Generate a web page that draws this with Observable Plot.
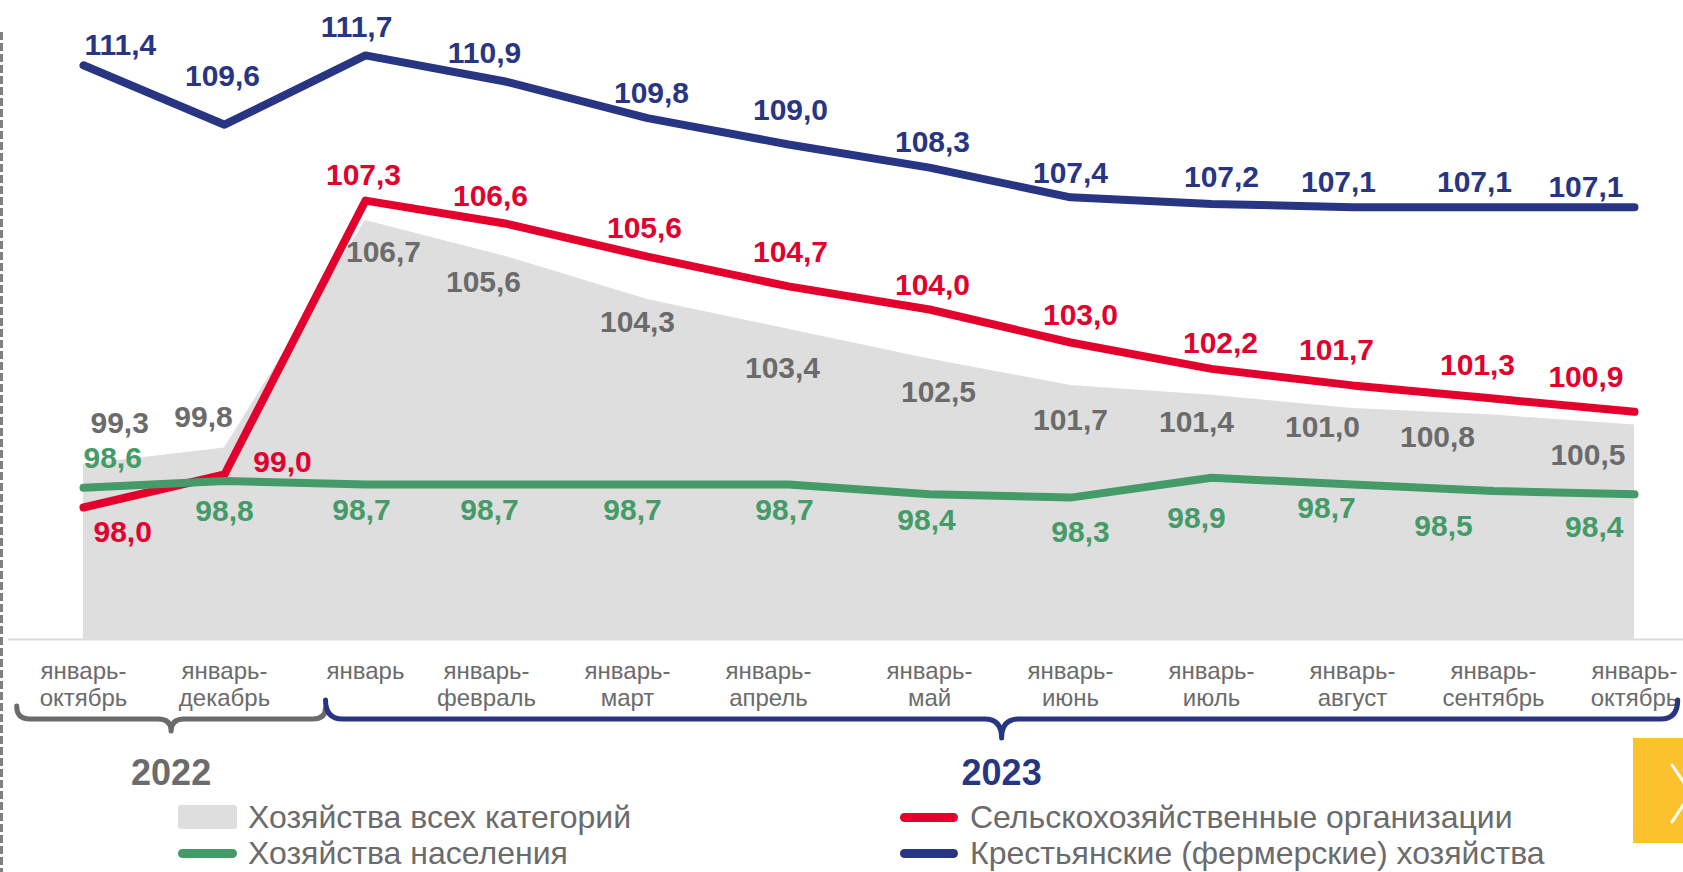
<!DOCTYPE html>
<html>
<head>
<meta charset="utf-8">
<script src="https://cdn.jsdelivr.net/npm/d3@7"></script>
<script src="https://cdn.jsdelivr.net/npm/@observablehq/plot@0.6"></script>
<style>
  html, body { margin: 0; padding: 0; background: #fff; overflow: hidden; }
  #wrap { position: relative; width: 1683px; height: 872px; overflow: hidden; font-family: "Liberation Sans", Arial, sans-serif; }
  #chart { position: absolute; left: 0; top: 0; }
  .dash { position: absolute; left: 0; top: 32px; width: 3px; height: 840px;
          background: repeating-linear-gradient(to bottom, #808080 0 8px, transparent 8px 11px); }
  .item { position: absolute; height: 36px; display: flex; align-items: center; white-space: nowrap;
          font-size: 32px; line-height: 1; color: #6b6b6b; }
  .sw-rect { width: 59px; height: 24px; border-radius: 3px; background: #dedede; margin-right: 11px; }
  .sw-line { width: 58px; height: 9px; border-radius: 5px; margin-right: 12px; }
  .nav { position: absolute; left: 1633px; top: 738px; width: 50px; height: 105px; background: #fbc22e; overflow: hidden; }
</style>
</head>
<body>
<div id="wrap">
  <div id="chart"></div>
  <div class="dash"></div>
  <div id="legend"></div>
  <div class="nav"><svg width="50" height="105"><polyline points="39,27 58,55 39,84" fill="none" stroke="#fff" stroke-width="3" stroke-linecap="round"/></svg></div>
</div>
<script>
// ---- data ----
const periods = ["2022-10","2022-12","2023-01","2023-02","2023-03","2023-04","2023-05","2023-06","2023-07","2023-08","2023-09","2023-10"];
const periodLabels = ["январь-\nоктябрь","январь-\nдекабрь","январь","январь-\nфевраль","январь-\nмарт","январь-\nапрель","январь-\nмай","январь-\nиюнь","январь-\nиюль","январь-\nавгуст","январь-\nсентябрь","январь-\nоктябрь"];
const allCategories = [99.3, 99.8, 106.7, 105.6, 104.3, 103.4, 102.5, 101.7, 101.4, 101.0, 100.8, 100.5];
const agriOrgs      = [98.0, 99.0, 107.3, 106.6, 105.6, 104.7, 104.0, 103.0, 102.2, 101.7, 101.3, 100.9];
const households    = [98.6, 98.8, 98.7, 98.7, 98.7, 98.7, 98.4, 98.3, 98.9, 98.7, 98.5, 98.4];
const farms         = [111.4, 109.6, 111.7, 110.9, 109.8, 109.0, 108.3, 107.4, 107.2, 107.1, 107.1, 107.1];
const years = ["2022", "2023"];
const seriesNames = ["Хозяйства всех категорий", "Хозяйства населения", "Сельскохозяйственные организации", "Крестьянские (фермерские) хозяйства"];

// ---- styling / layout ----
const C = { gray: "#dedede", grayText: "#6b6b6b", red: "#e3002d", green: "#459b68", blue: "#283583" };
const yDomain = [94, 113];
// label nudges [dx, dy] in px relative to each data point
const grayNudge  = [[7,-41],[-21,-31],[18,32],[-23,26],[-10,23],[-6,39],[9,33],[0,35],[-15,27],[-30,19],[-56,22],[-9,30]];
const redNudge   = [[10,25],[58,-12],[-2,-25],[-16,-27],[-3,-28],[2,-34],[3,-24],[10,-27],[9,-26],[-16,-35],[-16,-33],[-11,-34]];
const greenNudge = [[0,-29],[0,30],[-4,26],[-17,26],[-15,26],[-4,26],[-3,26],[10,35],[-15,41],[-26,24],[-50,35],[-11,33]];
const blueNudge  = [[1,-20],[-2,-48],[-9,-28],[-22,-28],[4,-25],[2,-34],[3,-25],[0,-24],[10,-27],[-14,-25],[-19,-25],[-11,-20]];

const rows = periods.map((p, i) => ({ period: p, label: periodLabels[i], all: allCategories[i], org: agriOrgs[i], hh: households[i], farm: farms[i] }));
const fmt = v => v.toFixed(1).replace(".", ",");
const labelOf = p => periodLabels[periods.indexOf(p)];

function valueLabels(key, color, nudges) {
  const n = rows.length;
  return rows.map((r, i) => Plot.text([r], {
    x: "period", y: key, text: d => fmt(d[key]),
    fill: color, fontSize: 30, fontWeight: "bold",
    textAnchor: i === 0 ? "start" : i === n - 1 ? "end" : "middle",
    dx: nudges[i][0], dy: nudges[i][1]
  }));
}

const lineOpts = { x: "period", strokeWidth: 8, strokeLinecap: "round", strokeLinejoin: "round" };
const axisOpts = { tickSize: 0, tickPadding: 21, fontSize: 24, lineHeight: 1.1, color: C.grayText, tickFormat: labelOf, label: null };
const shifted = periods.slice(3, 6);

const plot = Plot.plot({
  width: 1683, height: 800,
  marginLeft: 81, marginRight: 47, marginTop: 12, marginBottom: 161,
  style: { fontFamily: "'Liberation Sans', Arial, sans-serif", background: "transparent" },
  x: { type: "point", domain: periods, padding: 0, label: null },
  y: { domain: yDomain, axis: null },
  marks: [
    Plot.ruleY([yDomain[0]], { stroke: "#dcdcdc", strokeWidth: 2, insetLeft: -73, insetRight: -47 }),
    Plot.areaY(rows, { x: "period", y1: yDomain[0], y2: "all", fill: C.gray }),
    Plot.line(rows, { ...lineOpts, y: "org", stroke: C.red }),
    Plot.line(rows, { ...lineOpts, y: "hh", stroke: C.green }),
    Plot.line(rows, { ...lineOpts, y: "farm", stroke: C.blue }),
    ...valueLabels("all", C.grayText, grayNudge),
    ...valueLabels("org", C.red, redNudge),
    ...valueLabels("hh", C.green, greenNudge),
    ...valueLabels("farm", C.blue, blueNudge),
    Plot.axisX(periods.filter(p => !shifted.includes(p)), axisOpts),
    Plot.axisX(shifted, { ...axisOpts, dx: -20 })
  ]
});
document.getElementById("chart").appendChild(plot);

// ---- year braces (decoration derived from the x scale) ----
const xs = plot.scale("x");
const X = i => xs.apply(periods[i]);
const step = X(1) - X(0);
const svg = d3.select(plot);
function brace(x0, x1, yTop0, yTop1, yH, yTip, r, color) {
  const tip = (x0 + x1) / 2;
  const p = d3.path();
  p.moveTo(x0, yTop0);
  p.quadraticCurveTo(x0, yH, x0 + r, yH);
  p.lineTo(tip - r, yH);
  p.quadraticCurveTo(tip, yH, tip, yTip);
  p.quadraticCurveTo(tip, yH, tip + r, yH);
  p.lineTo(x1 - r, yH);
  p.quadraticCurveTo(x1, yH, x1, yTop1);
  svg.append("path").attr("d", p.toString()).attr("fill", "none")
    .attr("stroke", color).attr("stroke-width", 5).attr("stroke-linecap", "round").attr("stroke-linejoin", "round");
  return tip;
}
const split = X(2) - 0.28 * step;
const t2022 = brace(X(0) - 0.47 * step, split, 706, 708, 719, 731, 13, C.grayText);
const t2023 = brace(split, X(11) + 0.31 * step, 700, 700, 719, 738, 17, C.blue);
svg.append("text").attr("x", t2022).attr("y", 772).attr("text-anchor", "middle").attr("dy", "0.35em")
  .attr("font-size", 36).attr("font-weight", "bold").attr("fill", C.grayText).text(years[0]);
svg.append("text").attr("x", t2023).attr("y", 772).attr("text-anchor", "middle").attr("dy", "0.35em")
  .attr("font-size", 36).attr("font-weight", "bold").attr("fill", C.blue).text(years[1]);

// ---- legend ----
const legend = document.getElementById("legend");
const items = [
  { name: seriesNames[0], left: 178, top: 799, sw: `<div class="sw-rect"></div>` },
  { name: seriesNames[1], left: 178, top: 835, sw: `<div class="sw-line" style="background:${C.green};margin-right:11px;width:59px"></div>` },
  { name: seriesNames[2], left: 900, top: 799, sw: `<div class="sw-line" style="background:${C.red}"></div>` },
  { name: seriesNames[3], left: 900, top: 835, sw: `<div class="sw-line" style="background:${C.blue}"></div>` }
];
items.forEach(it => {
  const d = document.createElement("div");
  d.className = "item";
  d.style.left = it.left + "px";
  d.style.top = it.top + "px";
  d.innerHTML = it.sw + `<span>${it.name}</span>`;
  legend.appendChild(d);
});
</script>
</body>
</html>
